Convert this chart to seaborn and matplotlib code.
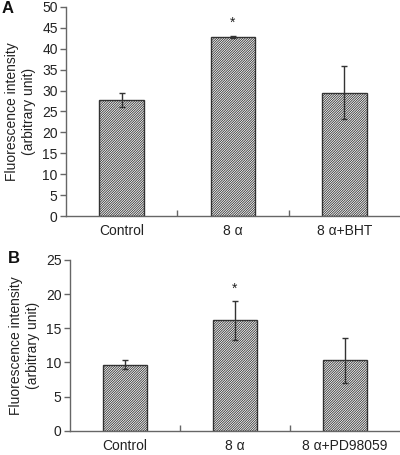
import matplotlib
matplotlib.use("Agg")
import matplotlib.pyplot as plt
import seaborn as sns
import pandas as pd
from matplotlib.ticker import FixedLocator

sns.set_theme(style="white")
plt.rcParams['font.family'] = ['Liberation Sans', 'DejaVu Sans']
plt.rcParams['hatch.linewidth'] = 0.6
plt.rcParams['hatch.color'] = '#7a7a7a'

cats_a = ["Control", "8 \u03b1", "8 \u03b1+BHT"]
vals_a = [27.7, 42.8, 29.5]
errs_a = [1.7, 0.2, 6.4]

cats_b = ["Control", "8 \u03b1", "8 \u03b1+PD98059"]
vals_b = [9.7, 16.2, 10.3]
errs_b = [0.7, 2.85, 3.3]

fig = plt.figure(figsize=(4.0, 4.55), dpi=100)
axA = fig.add_axes([0.165, 0.525, 0.835, 0.46])
axB = fig.add_axes([0.175, 0.053, 0.825, 0.376])

def draw(ax, cats, vals, errs, ymax, step):
    df = pd.DataFrame({"cat": cats, "val": vals})
    sns.barplot(data=df, x="cat", y="val", ax=ax, width=0.4, color="white",
                edgecolor="#333333", linewidth=1.0, errorbar=None)
    for p in ax.patches:
        p.set_hatch("/" * 14)
    ax.errorbar(range(len(cats)), vals, yerr=errs, fmt="none",
                ecolor="#333333", elinewidth=1.0, capsize=2.5, capthick=1.0)
    ax.set_xlim(-0.5, len(cats) - 0.5)
    ax.set_ylim(0, ymax)
    ax.set_yticks(list(range(0, ymax + 1, step)))
    ax.set_xlabel("")
    ax.set_ylabel("Fluorescence intensity\n(arbitrary unit)", fontsize=10,
                  color="#222222", labelpad=4, linespacing=1.35)
    for s in ["top", "right"]:
        ax.spines[s].set_visible(False)
    for s in ["left", "bottom"]:
        ax.spines[s].set_color("#666666")
        ax.spines[s].set_linewidth(1.0)
    ax.tick_params(axis="y", which="major", direction="out", length=4,
                   width=1.0, color="#666666", labelsize=10, left=True,
                   labelcolor="#222222", pad=2)
    ax.tick_params(axis="x", which="major", length=0, labelsize=10,
                   labelcolor="#222222", pad=6)
    ax.xaxis.set_minor_locator(FixedLocator([0.5, 1.5]))
    ax.tick_params(axis="x", which="minor", direction="in", length=4,
                   width=1.0, color="#666666", bottom=True)
    ax.text(1, vals[1] + errs[1] + ymax * 0.03, "*", ha="center", va="bottom",
            fontsize=10, color="#222222")

draw(axA, cats_a, vals_a, errs_a, 50, 5)
draw(axB, cats_b, vals_b, errs_b, 25, 5)

fig.text(0.005, 0.998, "A", fontsize=12, fontweight="bold", ha="left",
         va="top", color="#111111")
fig.text(0.02, 0.448, "B", fontsize=12, fontweight="bold", ha="left",
         va="top", color="#111111")

fig.savefig("out.png", dpi=100)
